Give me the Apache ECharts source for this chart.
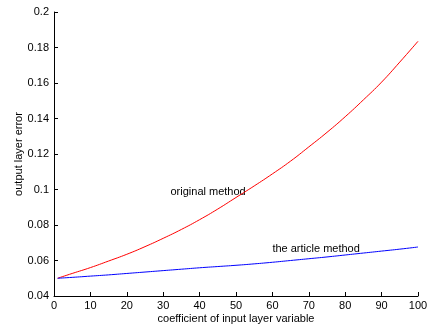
<!DOCTYPE html>
<html>
<head>
<meta charset="utf-8">
<script src="https://cdn.jsdelivr.net/npm/echarts@6/dist/echarts.min.js"></script>
<style>html,body{margin:0;padding:0;background:#fff}#c{width:428px;height:328px}</style>
</head>
<body>
<div id="c"></div>
<script>
var xValues = [1, 5, 10, 15, 20, 25, 30, 35, 40, 45, 50, 55, 60, 65, 70, 75, 80, 85, 90, 95, 100];
var originalMethod = [0.0500, 0.0527, 0.0560, 0.0597, 0.0635, 0.0678, 0.0725, 0.0775, 0.0830, 0.0890, 0.0955, 0.1020, 0.1088, 0.1160, 0.1240, 0.1322, 0.1410, 0.1505, 0.1605, 0.1718, 0.1835];
var articleMethod = [0.0500, 0.0505, 0.0512, 0.0519, 0.0527, 0.0535, 0.0543, 0.0551, 0.0559, 0.0566, 0.0573, 0.0581, 0.0590, 0.0600, 0.0610, 0.0620, 0.0631, 0.0642, 0.0653, 0.0664, 0.0676];
var xTicks = [0, 10, 20, 30, 40, 50, 60, 70, 80, 90, 100];
var yTicks = [0.04, 0.06, 0.08, 0.1, 0.12, 0.14, 0.16, 0.18, 0.2];
var annotations = [
  {text: 'original method', x: 32, y: 0.0985},
  {text: 'the article method', x: 60, y: 0.0665}
];

function pairs(xs, ys) { return xs.map(function (x, i) { return [x, ys[i]]; }); }

var font = 'Liberation Sans, Arial, sans-serif';
var chart = echarts.init(document.getElementById('c'), null, {renderer: 'canvas'});
var axisCommon = {
  axisLine: {show: true, lineStyle: {color: '#000', width: 1}},
  axisTick: {show: true, inside: true, length: 4, lineStyle: {color: '#000'}},
  splitLine: {show: false},
  axisLabel: {color: '#000', fontSize: 11, fontFamily: font},
  nameTextStyle: {color: '#000', fontSize: 11, fontFamily: font}
};
chart.setOption({
  animation: false,
  backgroundColor: '#fff',
  grid: {left: 54, right: 10, top: 12, bottom: 32, containLabel: false, outerBoundsMode: 'none'},
  xAxis: Object.assign({}, axisCommon, {
    type: 'value', min: xTicks[0], max: xTicks[xTicks.length - 1], interval: 10,
    name: 'coefficient of input layer variable', nameLocation: 'middle', nameGap: 17,
    nameMoveOverlap: false,
    axisLabel: Object.assign({}, axisCommon.axisLabel, {margin: 4})
  }),
  yAxis: Object.assign({}, axisCommon, {
    type: 'value', min: yTicks[0], max: yTicks[yTicks.length - 1], interval: 0.02,
    name: 'output layer error', nameLocation: 'middle', nameGap: 30,
    nameMoveOverlap: false,
    axisLabel: Object.assign({}, axisCommon.axisLabel, {margin: 5, formatter: function (v) { return String(+v.toFixed(2)); }})
  }),
  series: [
    {type: 'line', data: pairs(xValues, originalMethod), smooth: true, showSymbol: false,
     lineStyle: {color: '#ff0000', width: 1}, itemStyle: {color: '#ff0000'}},
    {type: 'line', data: pairs(xValues, articleMethod), smooth: true, showSymbol: false,
     lineStyle: {color: '#0000ff', width: 1}, itemStyle: {color: '#0000ff'}}
  ]
});
var g = annotations.map(function (a) {
  var p = chart.convertToPixel({gridIndex: 0}, [a.x, a.y]);
  return {type: 'text', x: p[0], y: p[1], style: {text: a.text, fill: '#000', font: '11px ' + font, align: 'left', verticalAlign: 'middle'}};
});
chart.setOption({graphic: g});
</script>
</body>
</html>
